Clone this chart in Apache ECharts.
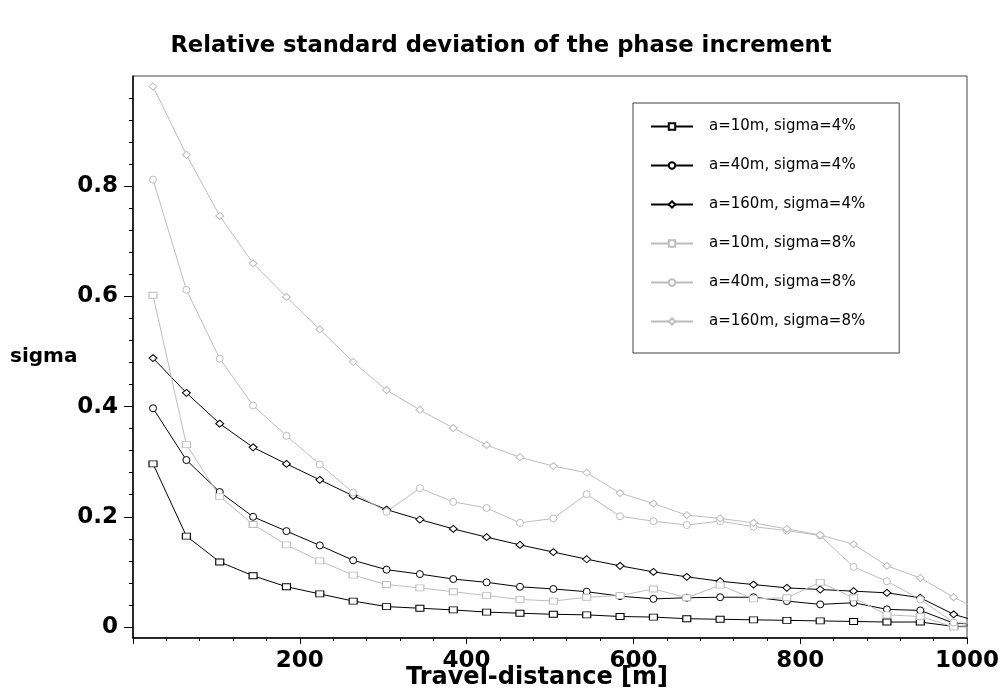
<!DOCTYPE html>
<html>
<head>
<meta charset="UTF-8">
<title>phase increment</title>
<script src="https://cdn.jsdelivr.net/npm/echarts@6/dist/echarts.min.js"></script>
</head>
<body style="margin:0;background:#fff">
<div id="main" style="width:1002px;height:696px;"></div>
<script type="text/javascript">
// travel distance [m] of each sample
var distances = [24, 64, 104, 144, 184, 224, 264, 304, 344, 384, 424, 464, 504,
	544, 584, 624, 664, 704, 744, 784, 824, 864, 904, 944, 984, 1024];

// relative std. deviation, sigma = 4%
var a10s4 = [0.296, 0.165, 0.118, 0.093, 0.073, 0.060, 0.047, 0.037, 0.034, 0.031, 0.027, 0.025, 0.023,
	0.022, 0.019, 0.018, 0.015, 0.014, 0.013, 0.012, 0.011, 0.010, 0.009, 0.009, 0.001, 0.002];
var a40s4 = [0.397, 0.303, 0.245, 0.200, 0.174, 0.148, 0.121, 0.104, 0.096, 0.087, 0.081, 0.073, 0.069,
	0.064, 0.056, 0.051, 0.053, 0.054, 0.054, 0.047, 0.041, 0.044, 0.032, 0.030, 0.007, 0.004];
var a160s4 = [0.488, 0.425, 0.369, 0.326, 0.296, 0.267, 0.238, 0.213, 0.195, 0.178, 0.163, 0.149, 0.136,
	0.123, 0.111, 0.100, 0.091, 0.083, 0.077, 0.071, 0.068, 0.065, 0.062, 0.053, 0.023, 0.005];
// sigma = 8%
var a10s8 = [0.602, 0.331, 0.237, 0.186, 0.149, 0.120, 0.094, 0.077, 0.071, 0.064, 0.057, 0.050, 0.047,
	0.054, 0.057, 0.069, 0.053, 0.076, 0.051, 0.053, 0.081, 0.053, 0.022, 0.019, 0.000, 0.000];
var a40s8 = [0.812, 0.612, 0.487, 0.402, 0.347, 0.295, 0.244, 0.209, 0.252, 0.227, 0.216, 0.189, 0.197,
	0.241, 0.201, 0.192, 0.185, 0.192, 0.182, 0.175, 0.166, 0.109, 0.083, 0.050, 0.008, 0.005];
var a160s8 = [0.981, 0.857, 0.746, 0.660, 0.599, 0.540, 0.481, 0.430, 0.394, 0.361, 0.330, 0.308, 0.292,
	0.280, 0.243, 0.224, 0.203, 0.197, 0.189, 0.178, 0.167, 0.150, 0.111, 0.089, 0.054, 0.024];

var seriesNames = ['a=10m, sigma=4%', 'a=40m, sigma=4%', 'a=160m, sigma=4%',
	'a=10m, sigma=8%', 'a=40m, sigma=8%', 'a=160m, sigma=8%'];

var yLabelValues = [0, 0.2, 0.4, 0.6, 0.8];
var yMinorValues = [0, 0.04, 0.08, 0.12, 0.16, 0.2, 0.24, 0.28, 0.32, 0.36, 0.4, 0.44, 0.48,
	0.52, 0.56, 0.6, 0.64, 0.68, 0.72, 0.76, 0.8, 0.84, 0.88, 0.92, 0.96];

var FONT = 'DejaVu Sans';
var BLACK = '#000';
var GREY = '#bdbdbd';

function pairs(ys) {
	var out = [];
	for (var i = 0; i < ys.length; i++) {
		out.push([distances[i], ys[i]]);
	}
	return out;
}

function makeSeries(name, ys, color, symbol, size) {
	return {
		name: name,
		type: 'line',
		data: pairs(ys),
		symbol: symbol,
		symbolSize: size,
		showAllSymbol: true,
		clip: true,
		lineStyle: { color: color, width: 1 },
		itemStyle: { color: '#fff', borderColor: color, borderWidth: 1 },
		emphasis: { disabled: true }
	};
}

var myChart = echarts.init(document.getElementById('main'));

var option = {
	animation: false,
	backgroundColor: '#fff',
	title: {
		text: 'Relative standard deviation of the phase increment',
		left: 'center',
		top: 30,
		textStyle: { fontFamily: FONT, fontSize: 22.7, fontWeight: 'bold', color: '#000' }
	},
	legend: {
		orient: 'vertical',
		left: 633,
		top: 103,
		padding: [16, 34, 24, 17],
		itemWidth: 42,
		itemHeight: 8,
		itemGap: 24,
		borderColor: '#444',
		borderWidth: 1,
		data: seriesNames,
		textStyle: { fontFamily: FONT, fontSize: 15, color: '#000', padding: [0, 0, 0, 11] }
	},
	grid: {
		left: 133,
		right: 35,
		top: 76,
		bottom: 58,
		containLabel: false,
		outerBoundsMode: 'none',
		show: true,
		borderColor: '#444',
		borderWidth: 1
	},
	xAxis: {
		type: 'value',
		min: 0,
		max: 1000,
		interval: 200,
		name: 'Travel-distance [m]',
		nameLocation: 'middle',
		nameGap: 28,
		nameMoveOverlap: false,
		nameTextStyle: { fontFamily: FONT, fontSize: 24, fontWeight: 'bold', color: '#000', padding: [0, 26, 0, 0] },
		axisLine: { onZero: false, lineStyle: { color: BLACK, width: 1.5 } },
		axisTick: { inside: false, length: 6, lineStyle: { color: BLACK } },
		minorTick: { show: true, splitNumber: 5, length: 3, lineStyle: { color: BLACK } },
		splitLine: { show: false },
		axisLabel: {
			margin: 12,
			fontFamily: FONT, fontSize: 23, fontWeight: 'bold', color: '#000',
			formatter: function (v) { return v === 0 ? '' : String(v); }
		}
	},
	yAxis: [{
		type: 'value',
		min: -0.02,
		max: 1.0,
		position: 'left',
		name: 'sigma',
		nameLocation: 'middle',
		nameRotate: 0,
		nameGap: 123,
		nameMoveOverlap: false,
		nameTextStyle: { fontFamily: FONT, fontSize: 20, fontWeight: 'bold', color: '#000', align: 'left', verticalAlign: 'middle' },
		axisLine: { show: true, onZero: false, lineStyle: { color: BLACK, width: 1.5 } },
		axisTick: { show: true, length: 9, customValues: yLabelValues, lineStyle: { color: BLACK } },
		splitLine: { show: false },
		axisLabel: {
			margin: 15,
			customValues: yLabelValues,
			fontFamily: FONT, fontSize: 23, fontWeight: 'bold', color: '#000',
			formatter: function (v) { return String(v); }
		}
	}, {
		type: 'value',
		min: -0.02,
		max: 1.0,
		position: 'left',
		offset: 0,
		axisLine: { show: false, onZero: false },
		axisTick: { show: true, length: 4, customValues: yMinorValues, lineStyle: { color: BLACK } },
		axisLabel: { show: false },
		splitLine: { show: false }
	}],
	series: [
		makeSeries(seriesNames[0], a10s4, BLACK, 'rect', [8, 6]),
		makeSeries(seriesNames[1], a40s4, BLACK, 'circle', 7),
		makeSeries(seriesNames[2], a160s4, BLACK, 'diamond', [8, 7]),
		makeSeries(seriesNames[3], a10s8, GREY, 'rect', [8, 6]),
		makeSeries(seriesNames[4], a40s8, GREY, 'circle', 7),
		makeSeries(seriesNames[5], a160s8, GREY, 'diamond', [8, 7])
	]
};

myChart.setOption(option);
</script>
</body>
</html>
